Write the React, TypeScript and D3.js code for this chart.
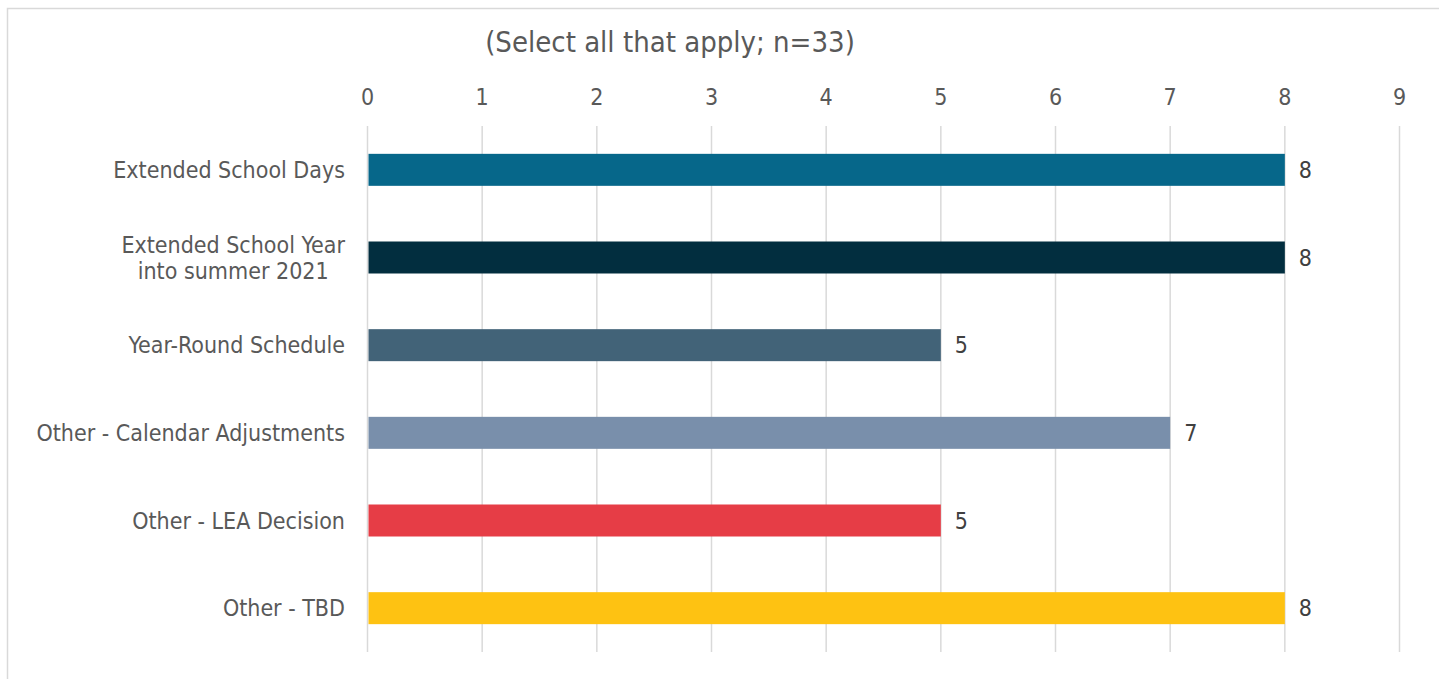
import React, { useEffect, useRef } from "react";
import * as d3 from "d3";

const categories: string[][] = [
  ["Extended School Days"],
  ["Extended School Year", "into summer 2021"],
  ["Year-Round Schedule"],
  ["Other - Calendar Adjustments"],
  ["Other - LEA Decision"],
  ["Other - TBD"],
];
const values: number[] = [8, 8, 5, 7, 5, 8];
const barColors: string[] = ["#06678A", "#022E3F", "#426378", "#798FAB", "#E63D46", "#FEC212"];
const xTicks: number[] = [0, 1, 2, 3, 4, 5, 6, 7, 8, 9];
const title = "(Select all that apply; n=33)";

const W = 1439;
const H = 679;
const FONT = "'DejaVu Sans Condensed', 'DejaVu Sans', sans-serif";
const TEXT = "#595959";
const FS = 23;

export default function App() {
  const ref = useRef<SVGSVGElement | null>(null);

  useEffect(() => {
    const svg = d3.select(ref.current);
    svg.selectAll("*").remove();

    const left = 367.5;
    const right = 1399.5;
    const top = 126;
    const bottom = 652;

    const x = d3.scaleLinear().domain([0, 9]).range([left, right]);
    const y = d3
      .scaleBand<number>()
      .domain(d3.range(categories.length))
      .range([top, bottom])
      .paddingInner(0.635)
      .paddingOuter(0.3175);

    svg
      .append("rect")
      .attr("x", 7.5)
      .attr("y", 8.5)
      .attr("width", 1500)
      .attr("height", 700)
      .attr("fill", "#fff")
      .attr("stroke", "#d9d9d9")
      .attr("stroke-width", 1.5);

    svg
      .append("text")
      .attr("x", 670)
      .attr("y", 42)
      .attr("dy", "0.36em")
      .attr("text-anchor", "middle")
      .attr("font-family", FONT)
      .attr("font-size", 29)
      .attr("fill", TEXT)
      .text(title);

    svg
      .append("g")
      .selectAll("line")
      .data(xTicks)
      .join("line")
      .attr("x1", (d) => x(d))
      .attr("x2", (d) => x(d))
      .attr("y1", top)
      .attr("y2", bottom)
      .attr("stroke", "#d9d9d9")
      .attr("stroke-width", 1.5);

    svg
      .append("g")
      .selectAll("text")
      .data(xTicks)
      .join("text")
      .attr("x", (d) => x(d))
      .attr("y", 97)
      .attr("dy", "0.36em")
      .attr("text-anchor", "middle")
      .attr("font-family", FONT)
      .attr("font-size", FS)
      .attr("fill", TEXT)
      .text((d) => String(d));

    const idx = d3.range(categories.length);

    svg
      .append("g")
      .selectAll("rect")
      .data(idx)
      .join("rect")
      .attr("x", x(0) + 1)
      .attr("y", (i) => y(i)!)
      .attr("width", (i) => x(values[i]) - x(0) - 1)
      .attr("height", y.bandwidth())
      .attr("fill", (i) => barColors[i]);

    svg
      .append("g")
      .selectAll("text")
      .data(idx)
      .join("text")
      .attr("x", (i) => x(values[i]) + 14)
      .attr("y", (i) => y(i)! + y.bandwidth() / 2)
      .attr("dy", "0.36em")
      .attr("font-family", FONT)
      .attr("font-size", FS)
      .attr("fill", "#404040")
      .text((i) => String(values[i]));

    const labelRight = 345;
    const lineH = 26;
    const lg = svg.append("g");
    idx.forEach((i) => {
      const lines = categories[i];
      const cy = y(i)! + y.bandwidth() / 2;
      const t = lg
        .append("text")
        .attr("font-family", FONT)
        .attr("font-size", FS)
        .attr("fill", TEXT)
        .attr("text-anchor", "middle");
      const tspans = lines.map((ln) => t.append("tspan").text(ln));
      let maxW = 0;
      tspans.forEach((ts) => {
        const w = (ts.node() as SVGTextContentElement).getComputedTextLength();
        if (w > maxW) maxW = w;
      });
      const cx = labelRight - maxW / 2;
      tspans.forEach((ts, k) => {
        ts.attr("x", cx)
          .attr("y", cy + (k - (lines.length - 1) / 2) * lineH)
          .attr("dy", "0.36em");
      });
    });
  }, []);

  return (
    <div style={{ position: "absolute", left: 0, top: 0 }}>
      <svg ref={ref} width={W} height={H} style={{ display: "block" }} />
    </div>
  );
}
